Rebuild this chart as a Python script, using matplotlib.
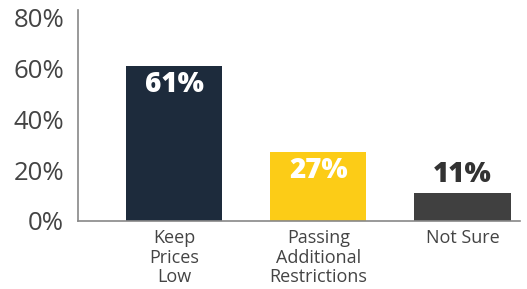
import matplotlib
matplotlib.use("Agg")
import matplotlib.pyplot as plt

categories = ["Keep\nPrices\nLow", "Passing\nAdditional\nRestrictions", "Not Sure"]
values = [61, 27, 11]
colors = ["#1d2b3c", "#fccc17", "#404040"]
yticks = [0, 20, 40, 60, 80]

plt.rcParams['font.family'] = ['Open Sans', 'DejaVu Sans']

fig = plt.figure(figsize=(5.27, 2.89), dpi=100)
ax = fig.add_axes([0.148, 0.236, 0.839, 0.729])

x = range(len(values))
bars = ax.bar(x, values, width=0.667, color=colors)

# etiquetas de valor
for i, v in enumerate(values):
    if v > 20:
        ax.annotate(f"{v}%", (i, v), xytext=(0, -13), textcoords="offset points",
                    ha="center", va="center", color="white",
                    fontsize=20, fontweight="heavy")
    else:
        ax.annotate(f"{v}%", (i, v), xytext=(0, 3), textcoords="offset points",
                    ha="center", va="bottom", color="#333333",
                    fontsize=20, fontweight="heavy")

ax.set_xlim(-0.667, 2.40)
ax.set_ylim(0, 83)
ax.set_yticks(yticks)
ax.set_yticklabels([f"{t}%" for t in yticks], fontsize=18.5, color="#444444")
ax.set_xticks(list(x))
ax.set_xticklabels(categories, fontsize=13, color="#444444", linespacing=1.1, va="top")
ax.tick_params(axis="both", length=0)
ax.tick_params(axis="x", pad=6)
ax.tick_params(axis="y", pad=10)

for s in ["top", "right"]:
    ax.spines[s].set_visible(False)
for s in ["left", "bottom"]:
    ax.spines[s].set_color("#888888")
    ax.spines[s].set_linewidth(1.2)

fig.savefig("out.png", dpi=100)
